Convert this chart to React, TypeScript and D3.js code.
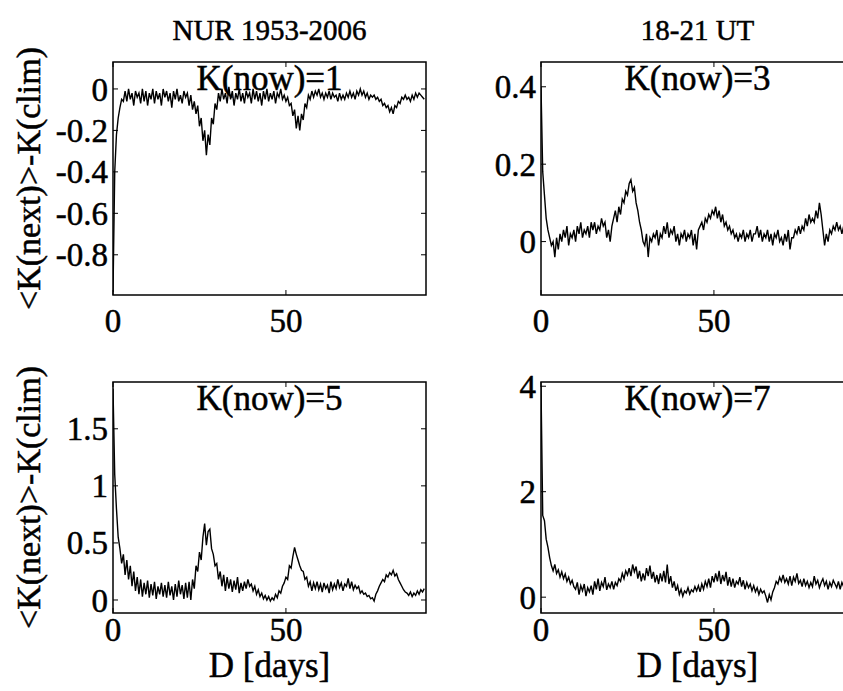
import React from 'react';
import * as d3 from 'd3';

// Days step between successive values (D = index * DAY_STEP)
const DAY_STEP = 0.5;

// K(now)=1 panel, D = 0..90 in 0.5-day steps
const K1_VALUES = [
  -0.98, -0.40, -0.22, -0.14, -0.09, -0.05, -0.06, -0.01, -0.06, 0.00,
  -0.05, -0.02, -0.08, -0.01, -0.04, -0.02, -0.07, 0.00, -0.06, -0.01,
  -0.08, -0.02, -0.05, 0.00, -0.07, -0.01, -0.05, -0.02, -0.08, 0.00,
  -0.04, -0.01, -0.06, -0.02, -0.09, -0.01, -0.05, 0.00, -0.06, -0.03,
  -0.07, -0.01, -0.04, -0.02, -0.08, -0.03, -0.10, -0.06, -0.12, -0.08,
  -0.18, -0.14, -0.25, -0.20, -0.32, -0.22, -0.27, -0.14, -0.17, -0.07,
  -0.10, -0.02, -0.06, 0.00, -0.05, -0.02, -0.07, 0.01, -0.05, -0.01,
  -0.08, -0.02, -0.05, 0.00, -0.06, -0.02, -0.07, -0.01, -0.04, -0.02,
  -0.07, 0.00, -0.05, -0.01, -0.06, -0.02, -0.08, -0.01, -0.05, 0.00,
  -0.06, -0.02, -0.05, -0.01, -0.07, -0.02, -0.04, 0.00, -0.05, -0.03,
  -0.06, -0.04, -0.08, -0.07, -0.13, -0.10, -0.19, -0.13, -0.20, -0.12,
  -0.15, -0.07, -0.09, -0.03, -0.05, -0.01, -0.04, -0.01, -0.03, 0.00,
  -0.04, -0.02, -0.05, -0.02, -0.04, -0.01, -0.05, -0.02, -0.04, -0.03,
  -0.06, -0.02, -0.05, -0.03, -0.05, -0.02, -0.04, -0.01, -0.04, -0.02,
  -0.05, -0.01, -0.03, 0.00, -0.03, -0.01, -0.04, -0.02, -0.05, -0.03,
  -0.04, -0.03, -0.05, -0.04, -0.06, -0.05, -0.08, -0.07, -0.09, -0.08,
  -0.11, -0.09, -0.12, -0.08, -0.09, -0.06, -0.07, -0.04, -0.05, -0.03,
  -0.05, -0.04, -0.06, -0.03, -0.05, -0.02, -0.04, -0.02, -0.03, -0.04,
  -0.05,
];

// K(now)=3 panel
const K3_VALUES = [
  0.40, 0.18, 0.12, 0.06, 0.03, 0.01, -0.01, 0.00, -0.04, 0.01,
  -0.02, 0.02, 0.00, 0.03, 0.01, 0.04, -0.01, 0.02, 0.01, 0.03,
  0.00, 0.04, 0.02, 0.05, 0.01, 0.03, 0.02, 0.04, 0.01, 0.05,
  0.03, 0.05, 0.02, 0.04, 0.03, 0.06, 0.04, 0.05, 0.01, 0.03,
  0.00, 0.04, 0.06, 0.08, 0.05, 0.09, 0.07, 0.11, 0.10, 0.13,
  0.12, 0.15, 0.16, 0.13, 0.14, 0.10, 0.08, 0.05, 0.03, 0.00,
  -0.01, 0.02, -0.04, 0.01, 0.00, 0.02, 0.01, 0.03, -0.01, 0.02,
  0.01, 0.04, 0.02, 0.05, 0.01, 0.03, 0.02, 0.04, 0.00, 0.02,
  -0.01, 0.02, 0.01, 0.03, 0.00, 0.02, 0.01, 0.03, -0.01, 0.02,
  -0.02, 0.03, 0.04, 0.05, 0.03, 0.06, 0.05, 0.07, 0.06, 0.08,
  0.07, 0.09, 0.06, 0.08, 0.05, 0.07, 0.04, 0.05, 0.03, 0.04,
  0.02, 0.03, 0.01, 0.02, 0.00, 0.02, 0.01, 0.03, 0.00, 0.02,
  0.01, 0.03, 0.00, 0.02, 0.02, 0.04, 0.01, 0.03, 0.00, 0.02,
  0.01, 0.03, 0.00, 0.02, -0.01, 0.02, 0.01, 0.03, 0.00, 0.01,
  -0.01, 0.02, 0.00, 0.03, -0.02, 0.01, 0.01, 0.03, 0.02, 0.04,
  0.02, 0.04, 0.03, 0.06, 0.04, 0.07, 0.05, 0.06, 0.05, 0.08,
  0.06, 0.10, 0.07, 0.03, -0.01, 0.02, 0.00, 0.03, 0.02, 0.04,
  0.03, 0.05, 0.03, 0.04, 0.02, 0.04, 0.03, 0.05, 0.02, 0.04,
  0.03,
];

// K(now)=5 panel
const K5_VALUES = [
  1.85, 1.10, 0.80, 0.55, 0.45, 0.32, 0.40, 0.22, 0.35, 0.18,
  0.30, 0.12, 0.25, 0.08, 0.20, 0.05, 0.18, 0.03, 0.15, 0.05,
  0.17, 0.02, 0.14, 0.04, 0.16, 0.01, 0.12, 0.05, 0.15, 0.03,
  0.13, 0.02, 0.16, 0.04, 0.12, 0.00, 0.14, 0.03, 0.17, 0.05,
  0.13, 0.01, 0.15, 0.02, 0.16, 0.00, 0.18, 0.10, 0.30, 0.25,
  0.42, 0.35, 0.55, 0.67, 0.48, 0.60, 0.62, 0.45, 0.40, 0.30,
  0.32, 0.18, 0.25, 0.12, 0.22, 0.08, 0.20, 0.10, 0.18, 0.07,
  0.17, 0.09, 0.20, 0.06, 0.15, 0.08, 0.16, 0.10, 0.18, 0.12,
  0.14, 0.08, 0.12, 0.05, 0.09, 0.03, 0.06, 0.01, 0.04, 0.00,
  0.03, -0.01, 0.02, 0.00, 0.05, 0.02, 0.08, 0.06, 0.12, 0.15,
  0.20, 0.18, 0.30, 0.28, 0.38, 0.46, 0.40, 0.35, 0.30, 0.26,
  0.25, 0.18, 0.20, 0.12, 0.16, 0.08, 0.15, 0.10, 0.16, 0.09,
  0.14, 0.07, 0.15, 0.10, 0.13, 0.06, 0.16, 0.09, 0.14, 0.10,
  0.18, 0.11, 0.15, 0.08, 0.14, 0.12, 0.19, 0.10, 0.16, 0.09,
  0.13, 0.10, 0.12, 0.06, 0.08, 0.05, 0.06, 0.03, 0.04, 0.01,
  0.02, -0.01, 0.05, 0.08, 0.12, 0.15, 0.18, 0.16, 0.22, 0.20,
  0.24, 0.22, 0.26, 0.21, 0.23, 0.18, 0.15, 0.12, 0.09, 0.07,
  0.06, 0.04, 0.07, 0.03, 0.06, 0.04, 0.08, 0.05, 0.09, 0.07,
  0.10,
];

// K(now)=7 panel
const K7_VALUES = [
  4.00, 1.55, 1.45, 1.10, 0.95, 0.75, 0.60, 0.50, 0.62, 0.45,
  0.52, 0.38, 0.48, 0.35, 0.44, 0.30, 0.38, 0.25, 0.32, 0.20,
  0.15, 0.28, 0.05, 0.22, 0.12, 0.25, 0.02, 0.18, 0.10, 0.22,
  0.05, 0.30, 0.15, 0.35, 0.12, 0.28, 0.20, 0.38, 0.14, 0.25,
  0.18, 0.30, 0.15, 0.28, 0.22, 0.35, 0.30, 0.45, 0.35, 0.50,
  0.42, 0.55, 0.40, 0.62, 0.48, 0.58, 0.35, 0.50, 0.30, 0.45,
  0.32, 0.55, 0.40, 0.60, 0.35, 0.48, 0.28, 0.42, 0.25, 0.45,
  0.30, 0.50, 0.28, 0.62, 0.25, 0.40, 0.18, 0.30, 0.12, 0.22,
  0.05, 0.15, 0.02, 0.12, 0.08, 0.18, 0.06, 0.14, 0.10, 0.20,
  0.12, 0.22, 0.10, 0.25, 0.15, 0.30, 0.20, 0.35, 0.18, 0.40,
  0.28, 0.45, 0.30, 0.50, 0.25, 0.42, 0.30, 0.48, 0.22, 0.38,
  0.20, 0.35, 0.18, 0.30, 0.25, 0.38, 0.20, 0.32, 0.15, 0.28,
  0.18, 0.25, 0.12, 0.22, 0.10, 0.18, 0.05, 0.15, 0.08, 0.12,
  0.02, -0.10, 0.05, -0.05, 0.10, 0.18, 0.30, 0.25, 0.38, 0.30,
  0.42, 0.28, 0.35, 0.25, 0.40, 0.22, 0.38, 0.30, 0.45, 0.26,
  0.32, 0.20, 0.35, 0.22, 0.30, 0.18, 0.28, 0.20, 0.40, 0.25,
  0.32, 0.18, 0.28, 0.35, 0.22, 0.30, 0.15, 0.28, 0.20, 0.32,
  0.25, 0.18, 0.30, 0.15, 0.28, 0.20, 0.32, 0.18, 0.26, 0.22,
  0.25,
];

const X_TICKS = [0, 50];
const Y_TICKS_K1 = [0, -0.2, -0.4, -0.6, -0.8];
const Y_TICKS_K3 = [0, 0.2, 0.4];
const Y_TICKS_K5 = [0, 0.5, 1, 1.5];
const Y_TICKS_K7 = [0, 2, 4];
const PANEL_LABELS = ['K(now)=1', 'K(now)=3', 'K(now)=5', 'K(now)=7'];
const COLUMN_TITLES = ['NUR 1953-2006', '18-21 UT'];
const Y_LABEL = '<K(next)>-K(clim)';
const X_LABEL = 'D [days]';

const FONT = "'Liberation Serif', 'Times New Roman', serif";
const PW = 313;
const COL_X = [113, 541];
const ROW_Y = [62, 382];
const ROW_H = [233, 231];
const XLAB_OFF = [37, 28];
const X_DOMAIN: [number, number] = [0, 90.5];

type PanelSpec = {
  values: number[];
  yDomain: [number, number];
  yTicks: number[];
  label: string;
  col: number;
  row: number;
};

const PANELS: PanelSpec[] = [
  { values: K1_VALUES, yDomain: [-0.994, 0.13], yTicks: Y_TICKS_K1, label: PANEL_LABELS[0], col: 0, row: 0 },
  { values: K3_VALUES, yDomain: [-0.138, 0.464], yTicks: Y_TICKS_K3, label: PANEL_LABELS[1], col: 1, row: 0 },
  { values: K5_VALUES, yDomain: [-0.114, 1.91], yTicks: Y_TICKS_K5, label: PANEL_LABELS[2], col: 0, row: 1 },
  { values: K7_VALUES, yDomain: [-0.3, 4.08], yTicks: Y_TICKS_K7, label: PANEL_LABELS[3], col: 1, row: 1 },
];

function T({
  x,
  y,
  size,
  anchor = 'start',
  rotate = 0,
  dy,
  children,
}: {
  x: number;
  y: number;
  size: number;
  anchor?: 'start' | 'middle' | 'end';
  rotate?: number;
  dy?: string;
  children: React.ReactNode;
}) {
  return (
    <text
      transform={`translate(${x},${y}) rotate(${rotate})`}
      textAnchor={anchor}
      dy={dy}
      fontFamily={FONT}
      fontSize={size}
      fill="#000"
      stroke="#000"
      strokeWidth={0.5}
    >
      {children}
    </text>
  );
}

function Panel({ p, idx }: { p: PanelSpec; idx: number }) {
  const left = COL_X[p.col];
  const top = ROW_Y[p.row];
  const h = ROW_H[p.row];
  const x = d3.scaleLinear().domain(X_DOMAIN).range([left, left + PW]);
  const y = d3.scaleLinear().domain(p.yDomain).range([top + h, top]);
  const line = d3
    .line<number>()
    .x((_, i) => x(i * DAY_STEP))
    .y((d) => y(d));
  const tl = 5;
  const clipId = `clip-${idx}`;
  return (
    <g>
      <defs>
        <clipPath id={clipId}>
          <rect x={left} y={top} width={PW} height={h} />
        </clipPath>
      </defs>
      <path d={line(p.values) || ''} fill="none" stroke="#000" strokeWidth={1.4} clipPath={`url(#${clipId})`} />
      {p.yTicks.map((t) => (
        <g key={'y' + t}>
          <line x1={left} x2={left + tl} y1={y(t)} y2={y(t)} stroke="#000" strokeWidth={1} />
          <line x1={left + PW - tl} x2={left + PW} y1={y(t)} y2={y(t)} stroke="#000" strokeWidth={1} />
          <T x={left - 5} y={y(t)} size={33} anchor="end" dy="0.35em">
            {String(t)}
          </T>
        </g>
      ))}
      {X_TICKS.map((t) => (
        <g key={'x' + t}>
          <line x1={x(t)} x2={x(t)} y1={top + h} y2={top + h - tl} stroke="#000" strokeWidth={1} />
          <line x1={x(t)} x2={x(t)} y1={top} y2={top + tl} stroke="#000" strokeWidth={1} />
          <T x={x(t)} y={top + h + XLAB_OFF[p.row]} size={33} anchor="middle">
            {String(t)}
          </T>
        </g>
      ))}
      <rect x={left} y={top} width={PW} height={h} fill="none" stroke="#000" strokeWidth={1.5} />
      <T x={left + PW / 2} y={top + 28} size={35} anchor="middle">
        {p.label}
      </T>
    </g>
  );
}

export default function App() {
  return (
    <svg
      width={843}
      height={691}
      style={{ position: 'absolute', left: 0, top: 0, display: 'block', background: '#fff' }}
    >
      <rect x={0} y={0} width={843} height={691} fill="#fff" />
      {PANELS.map((p, i) => (
        <Panel key={i} p={p} idx={i} />
      ))}
      {COLUMN_TITLES.map((t, i) => (
        <T key={t} x={COL_X[i] + PW / 2} y={40} size={29} anchor="middle">
          {t}
        </T>
      ))}
      {ROW_Y.map((ty, i) => (
        <T key={'yl' + i} x={40} y={ty + ROW_H[i] / 2} size={34} anchor="middle" rotate={-90}>
          {Y_LABEL}
        </T>
      ))}
      {COL_X.map((cx, i) => (
        <T key={'xl' + i} x={cx + PW / 2} y={677} size={35} anchor="middle">
          {X_LABEL}
        </T>
      ))}
    </svg>
  );
}
